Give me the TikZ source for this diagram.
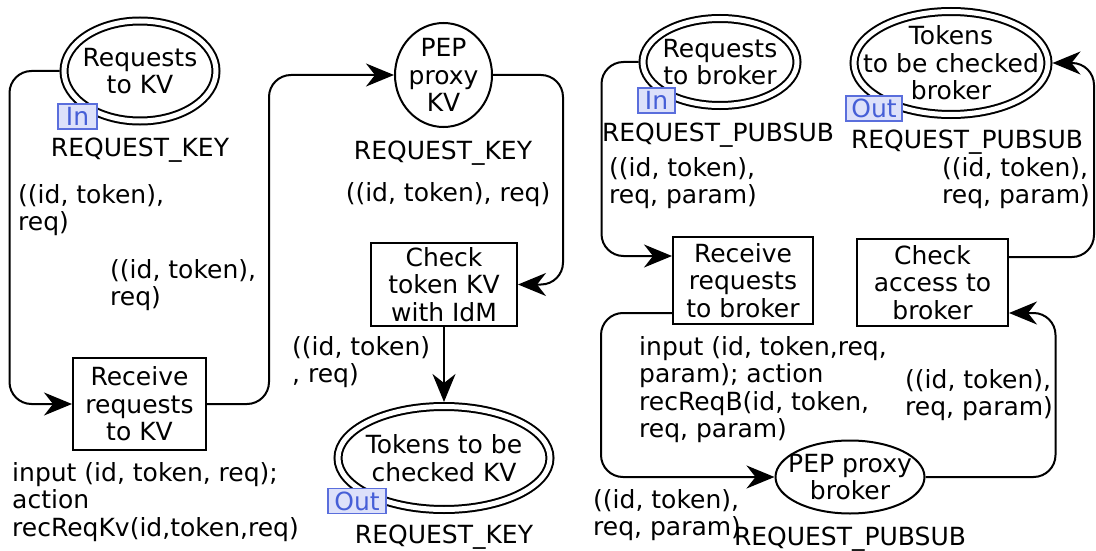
\documentclass[tikz,border=0pt]{standalone}
\usepackage{fontspec}
\setmainfont{DejaVu Sans}
\usetikzlibrary{arrows.meta,shapes.geometric}
\newcommand{\dfont}{\fontsize{25pt}{27.5pt}\selectfont}
\definecolor{tagfill}{RGB}{221,225,250}
\definecolor{tagdraw}{RGB}{90,110,220}
\definecolor{tagtext}{RGB}{70,95,215}
\tikzset{
  place/.style={ellipse, draw, line width=2pt, inner sep=0pt},
  ioplace/.style={place, double, double distance=5pt, outer sep=4.5pt},
  trans/.style={rectangle, draw, line width=2pt, inner sep=2pt, align=center, font=\dfont},
  txt/.style={inner sep=0pt, align=center, font=\dfont},
  lbl/.style={inner sep=0pt, align=left, font=\dfont, anchor=base west},
  typ/.style={inner sep=0pt, font=\dfont, anchor=base},
  tag/.style={rectangle, draw=tagdraw, fill=tagfill, text=tagtext, line width=1.5pt,
              inner sep=1pt, minimum height=25pt, text depth=0pt, font=\dfont},
  arc/.style={line width=2pt, rounded corners=22pt},
  arr/.style={arc, -{Stealth[length=28pt, width=23pt, inset=9pt]}}
}
\begin{document}
\begin{tikzpicture}[x=1pt, y=-1pt]
\useasboundingbox (0,0) rectangle (1096,551);

% ---------- left net ----------
\node[ioplace, minimum width=152pt, minimum height=100pt] (Pkv) at (140,71) {};
\node[txt] (Pkvt) at (Pkv.center) {Requests\\to KV};
\node[tag, minimum width=39pt] (InA) at (77.5,116.5) {In};
\node[typ] (TyA) at (140,156) {REQUEST\_KEY};

\node[trans, minimum width=133pt, minimum height=92pt] (T1) at (139.5,404) {Receive\\requests\\to KV};

\node[place, minimum width=97pt, minimum height=104pt] (PEPkv) at (443.5,75) {};
\node[txt] (PEPkvt) at (PEPkv.center) {PEP\\proxy\\KV};
\node[typ] (TyB) at (443,159) {REQUEST\_KEY};

\node[trans, minimum width=146pt, minimum height=83pt] (T2) at (444,284.5) {Check\\token KV\\with IdM};

\node[ioplace, minimum width=212pt, minimum height=103pt] (Tkv) at (444,458) {};
\node[txt] (Tkvt) at (Tkv.center) {Tokens to be\\checked KV};
\node[tag, minimum width=58pt] (OutA) at (357,501) {Out};
\node[typ] (TyC) at (444,543) {REQUEST\_KEY};

\draw[arr] (Pkv.west) -- ++(-50,0) |- (T1.west);
\draw[arr] (T1.east) -- ++(62,0) |- (PEPkv.west);
\draw[arr] (PEPkv.east) -- ++(70,0) |- (T2.east);
\draw[arr] (T2.south) -- (Tkv.north);

% multi-line labels: anchor base = baseline of the last line
\node[lbl] (LA) at (18,230.5) {((id, token),\\req)};
\node[lbl] (LB) at (110,305.5) {((id, token),\\req)};
\node[typ] (LC) at (448,201) {((id, token), req)};
\node[lbl] (LD) at (292,382.5) {((id, token)\\, req)};
\node[lbl] (LE) at (12,536) {input (id, token, req);\\action\\recReqKv(id,token,req)};

% ---------- right net ----------
\node[ioplace, minimum width=154pt, minimum height=87pt] (Prb) at (720,62) {};
\node[txt] (Prbt) at (Prb.center) {Requests\\to broker};
\node[tag, minimum width=37pt] (InB) at (656.5,100.5) {In};
\node[typ] (TyD) at (718,141) {REQUEST\_PUBSUB};

\node[ioplace, minimum width=194pt, minimum height=103pt] (Ttb) at (951,63) {};
\node[txt] (Ttbt) at (Ttb.center) {Tokens\\to be checked\\broker};
\node[tag, minimum width=56pt] (OutB) at (874,108.5) {Out};
\node[typ] (TyE) at (967,148) {REQUEST\_PUBSUB};

\node[trans, minimum width=140pt, minimum height=87pt] (Trb) at (743,280.5) {Receive\\requests\\to broker};
\node[trans, minimum width=151pt, minimum height=87pt] (Tca) at (932.5,282.5) {Check\\access to\\broker};

\node[place, minimum width=149pt, minimum height=73pt] (PEPb) at (850,477) {};
\node[txt] (PEPbt) at (PEPb.center) {PEP proxy\\broker};
\node[typ] (TyF) at (850,545) {REQUEST\_PUBSUB};

\draw[arr] (Prb.west) -- ++(-37,0) |- ([yshift=-20pt]Trb.north west);
\draw[arr] ([yshift=12pt]Trb.south west) -- ++(-71,0) |- (PEPb.west);
\draw[arr] (PEPb.east) -- ++(130,0) |- ([yshift=14pt]Tca.south east);
\draw[arr] ([yshift=-19pt]Tca.north east) -- ++(85,0) |- (Ttb.east);

\node[lbl] (LF) at (609,203.5) {((id, token),\\req, param)};
\node[lbl] (LG) at (942,203.5) {((id, token),\\req, param)};
\node[lbl] (LH) at (639,437.5) {input (id, token,req,\\param); action\\recReqB(id, token,\\req, param)};
\node[lbl] (LI) at (905,415.5) {((id, token),\\req, param)};
\node[lbl] (LJ) at (593,535.5) {((id, token),\\req, param)};
\end{tikzpicture}
\end{document}
